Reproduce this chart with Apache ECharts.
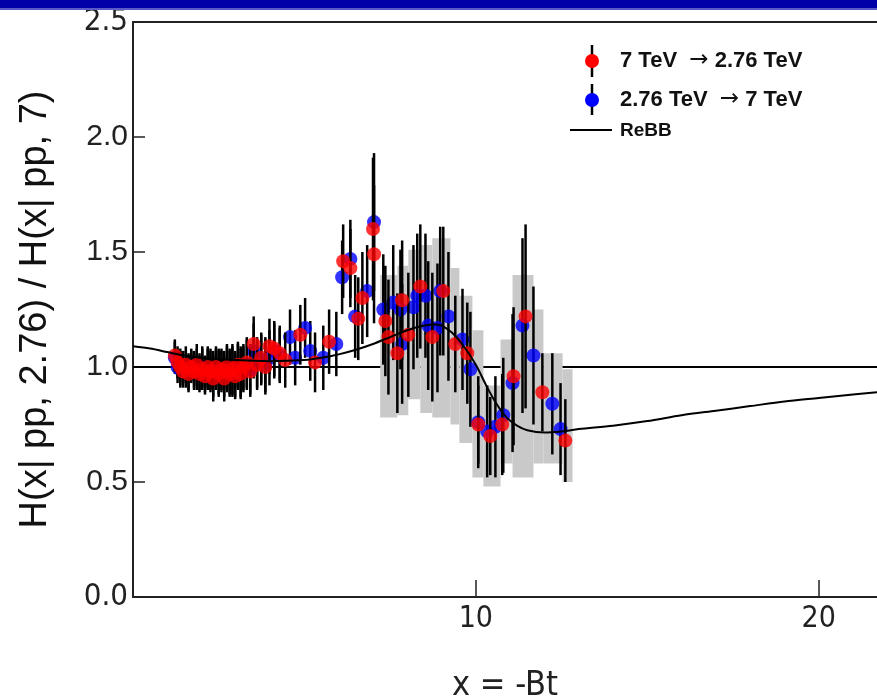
<!DOCTYPE html>
<html>
<head>
<meta charset="utf-8">
<script src="https://cdn.jsdelivr.net/npm/echarts@6/dist/echarts.min.js"></script>
<style>html,body{margin:0;padding:0;background:#fff;overflow:hidden;}#c{width:877px;height:700px;}</style>
</head>
<body>
<div id="c"></div>
<script>
// ---- data ----
const xTickValues = [10, 20];
const yTickValues = [0, 0.5, 1.0, 1.5, 2.0, 2.5];
const refLineY = 1.0;

// 7 TeV -> 2.76 TeV (red): x, y, stat error
const redX = [1.22,1.30,1.38,1.46,1.54,1.62,1.70,1.78,1.86,1.94,2.02,2.10,2.18,2.26,2.34,2.42,2.50,2.58,2.66,2.74,2.82,2.90,2.98,3.06,3.14,3.22,3.32,3.42,3.52,3.62,3.74,3.86,3.98,4.12,4.28,4.44,4.88,5.31,5.72,6.13,6.34,6.57,6.69,7.00,7.03,7.36,7.45,7.71,7.85,8.03,8.38,8.73,9.05,9.40,9.75,10.07,10.42,10.77,11.10,11.45,11.94,12.61];
const redY = [1.05,1.02,1.00,0.98,1.01,0.97,1.00,0.98,1.01,0.97,0.99,0.96,1.00,0.98,0.95,1.00,0.97,0.99,0.95,1.00,0.97,0.99,0.96,1.01,0.97,1.00,1.02,0.98,1.10,1.01,1.04,1.00,1.09,1.08,1.06,1.03,1.14,1.02,1.11,1.46,1.43,1.21,1.30,1.60,1.49,1.20,1.13,1.06,1.29,1.14,1.35,1.13,1.33,1.10,1.06,0.75,0.70,0.75,0.96,1.22,0.89,0.68];
const redErr = [0.07,0.07,0.08,0.07,0.08,0.08,0.07,0.08,0.09,0.08,0.09,0.08,0.09,0.09,0.10,0.09,0.10,0.09,0.10,0.10,0.10,0.11,0.10,0.10,0.11,0.10,0.11,0.11,0.12,0.11,0.11,0.12,0.12,0.12,0.12,0.12,0.13,0.13,0.14,0.16,0.17,0.18,0.20,0.31,0.30,0.24,0.25,0.26,0.26,0.27,0.27,0.28,0.28,0.21,0.22,0.17,0.17,0.22,0.30,0.40,0.17,0.18];

// 2.76 TeV -> 7 TeV (blue)
const blueX = [1.22,1.30,1.38,1.46,1.54,1.62,1.70,1.78,1.86,1.94,2.02,2.10,2.18,2.26,2.34,2.42,2.50,2.58,2.66,2.74,2.82,2.90,2.98,3.06,3.14,3.22,3.32,3.42,3.52,3.62,3.74,3.86,3.98,4.12,4.28,4.58,4.73,5.02,5.17,5.55,5.93,6.10,6.34,6.48,6.83,7.03,7.30,7.59,7.80,7.85,8.18,8.29,8.53,8.61,8.88,8.96,9.20,9.61,9.84,10.07,10.33,10.57,10.80,11.07,11.36,11.68,12.23,12.47];
const blueY = [1.04,1.00,0.99,1.00,0.99,0.98,1.01,0.99,0.99,0.98,1.00,0.97,0.99,0.99,0.97,0.99,0.98,0.98,0.97,0.99,0.98,0.98,0.97,1.00,0.98,0.99,1.01,0.99,1.07,1.02,1.03,1.01,1.04,1.07,1.05,1.13,1.04,1.17,1.07,1.04,1.10,1.39,1.47,1.22,1.33,1.63,1.25,1.28,1.25,1.10,1.26,1.31,1.31,1.18,1.17,1.33,1.22,1.12,0.99,0.76,0.72,0.74,0.79,0.93,1.18,1.05,0.84,0.73];
const blueErr = [0.07,0.07,0.08,0.07,0.08,0.08,0.07,0.08,0.09,0.08,0.09,0.08,0.09,0.09,0.10,0.09,0.10,0.09,0.10,0.10,0.10,0.11,0.10,0.10,0.11,0.10,0.11,0.11,0.12,0.11,0.11,0.12,0.12,0.12,0.12,0.12,0.12,0.13,0.13,0.14,0.14,0.16,0.17,0.18,0.20,0.30,0.24,0.25,0.26,0.26,0.27,0.27,0.27,0.28,0.28,0.28,0.28,0.22,0.25,0.20,0.20,0.22,0.25,0.30,0.38,0.30,0.22,0.20];

// systematic (grey) band, step segments
const bandX0   = [7.21,7.71,8.03,8.38,8.73,9.26,9.52,9.90,10.22,10.72,11.07,11.68,11.97,12.53];
const bandX1   = [7.71,8.03,8.38,8.73,9.26,9.52,9.90,10.22,10.72,11.07,11.68,11.97,12.53,12.82];
const bandLow  = [0.78,0.79,0.86,0.80,0.78,0.75,0.67,0.52,0.48,0.58,0.52,0.58,0.58,0.50];
const bandHigh = [1.40,1.44,1.51,1.53,1.56,1.43,1.31,1.16,0.92,1.12,1.40,1.25,1.06,0.99];

// ReBB model curve
const rebbX = [0,0.5,1.0,1.5,2.0,3.0,4.0,5.0,5.5,6.0,6.5,7.0,7.5,8.0,8.5,8.8,9.0,9.3,9.6,10.0,10.3,10.6,10.9,11.2,11.5,12.0,12.5,13,14,15,16,17,18,19,20,21,21.7];
const rebbY = [1.09,1.08,1.065,1.05,1.04,1.03,1.025,1.03,1.04,1.055,1.075,1.10,1.13,1.16,1.18,1.185,1.18,1.15,1.10,1.01,0.92,0.84,0.78,0.745,0.725,0.715,0.72,0.73,0.745,0.765,0.79,0.81,0.83,0.85,0.865,0.88,0.89];

const X_MAX = 21.7;
const narrow = "'Liberation Sans Narrow','DejaVu Sans Condensed','Liberation Sans',Arial,sans-serif";
const regular = "'Liberation Sans',Arial,sans-serif";

const zip3 = (a,b,c) => a.map((v,i)=>[v,b[i],c[i]]);
const redData = zip3(redX, redY, redErr);
const blueData = zip3(blueX, blueY, blueErr);
const bandData = bandX0.map((v,i)=>[v, bandX1[i], bandLow[i], bandHigh[i]]);
const rebbData = rebbX.map((v,i)=>[v, rebbY[i]]);

function errRender(params, api){
  const x = api.value(0), y = api.value(1), e = api.value(2);
  const p0 = api.coord([x, y - e]);
  const p1 = api.coord([x, y + e]);
  return {type:'line', shape:{x1:p0[0], y1:p0[1], x2:p1[0], y2:p1[1]}, style:{stroke:'#000', lineWidth:2.5}};
}
function bandRender(params, api){
  const a = api.coord([api.value(0), api.value(3)]);
  const b = api.coord([api.value(1), api.value(2)]);
  return {type:'rect', shape:{x:a[0], y:a[1], width:b[0]-a[0], height:b[1]-a[1]}, style:{fill:'#c9c9c9'}};
}

const arrowRich = {a:{fontFamily:'DejaVu Sans', fontSize:23, fontWeight:'normal', fill:'#111'}};

const chart = echarts.init(document.getElementById('c'), null, {renderer:'canvas'});
chart.setOption({
  animation:false,
  backgroundColor:'#fff',
  grid:{left:133, right:0, top:22, bottom:103, containLabel:false, outerBoundsMode:'none'},
  xAxis:[{
    type:'value', min:0, max:X_MAX, interval:10,
    axisLine:{show:true, lineStyle:{color:'#222', width:2}},
    axisTick:{show:true, inside:true, length:17, customValues:[0].concat(xTickValues), lineStyle:{color:'#222', width:1.5}},
    splitLine:{show:false},
    axisLabel:{margin:7, color:'#222', customValues:xTickValues,
      formatter:v => xTickValues.indexOf(v) >= 0 ? '{c|'+v+'}' : '',
      rich:{c:{fontFamily:narrow, fontSize:30, color:'#222'}}},
    name:'x = -Bt', nameLocation:'middle', nameGap:72,
    nameTextStyle:{fontFamily:narrow, fontSize:34, color:'#222'}
  },{
    type:'value', min:0, max:X_MAX, position:'top',
    axisLine:{show:true, lineStyle:{color:'#222', width:2}},
    axisTick:{show:false}, axisLabel:{show:false}, splitLine:{show:false}
  }],
  yAxis:{
    type:'value', min:0, max:2.5, interval:0.5,
    axisLine:{show:true, lineStyle:{color:'#222', width:2}},
    axisTick:{show:true, inside:true, length:12, lineStyle:{color:'#222', width:1.5}},
    splitLine:{show:false},
    axisLabel:{margin:5, color:'#222',
      formatter:v => (v===0 || v===2.5) ? '{c|'+v.toFixed(1)+'}' : '{n|'+v.toFixed(1)+'}',
      rich:{c:{fontFamily:narrow, fontSize:31, color:'#222'}, n:{fontFamily:regular, fontSize:30, color:'#222'}}},
    name:'H(x| pp, 2.76) / H(x| pp, 7)', nameLocation:'middle', nameGap:78,
    nameTextStyle:{fontFamily:regular, fontSize:38, color:'#111'}
  },
  series:[
    {type:'line', data:[[0,refLineY],[X_MAX,refLineY]], symbol:'none', lineStyle:{color:'#000', width:2}, z:1, silent:true},
    {type:'custom', renderItem:bandRender, data:bandData, encode:{x:[0,1], y:[2,3]}, z:2, silent:true},
    {type:'custom', renderItem:errRender, data:blueData, encode:{x:0, y:1}, z:3, silent:true},
    {type:'scatter', data:blueData, symbol:'circle', symbolSize:14, itemStyle:{color:'#0000ff'}, z:4, silent:true},
    {type:'custom', renderItem:errRender, data:redData, encode:{x:0, y:1}, z:5, silent:true},
    {type:'scatter', data:redData, symbol:'circle', symbolSize:14, itemStyle:{color:'#ff0000'}, z:6, silent:true},
    {type:'line', data:rebbData, symbol:'none', smooth:0.3, lineStyle:{color:'#000', width:2}, z:7, silent:true}
  ],
  graphic:[
    {type:'rect', left:0, top:0, shape:{width:877, height:8}, style:{fill:'#0000a8'}, z:100},
    {type:'rect', left:0, top:8, shape:{width:877, height:2}, style:{fill:'#5a5ac8'}, z:100},
    // legend
    {type:'line', shape:{x1:592, y1:45, x2:592, y2:77}, style:{stroke:'#000', lineWidth:2.5}, z:100},
    {type:'circle', shape:{cx:592, cy:61, r:7}, style:{fill:'#ff0000'}, z:101},
    {type:'text', left:620, top:49, style:{text:'7 TeV  {a|\u2192} 2.76 TeV', font:'bold 22px '+regular, fill:'#111', rich:arrowRich}, z:101},
    {type:'line', shape:{x1:592, y1:84, x2:592, y2:115}, style:{stroke:'#000', lineWidth:2.5}, z:100},
    {type:'circle', shape:{cx:592, cy:100, r:7}, style:{fill:'#0000ff'}, z:101},
    {type:'text', left:620, top:88, style:{text:'2.76 TeV  {a|\u2192} 7 TeV', font:'bold 22px '+regular, fill:'#111', rich:arrowRich}, z:101},
    {type:'line', shape:{x1:570, y1:130, x2:612, y2:130}, style:{stroke:'#000', lineWidth:2}, z:100},
    {type:'text', left:620, top:121, style:{text:'ReBB', font:'bold 19px '+regular, fill:'#111'}, z:101}
  ]
});
</script>
</body>
</html>
